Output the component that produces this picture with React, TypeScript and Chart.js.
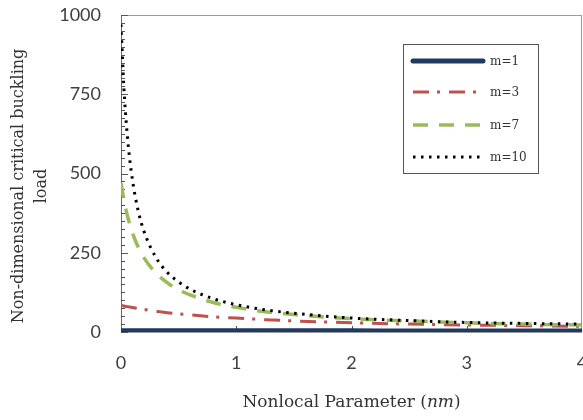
import React, { useEffect, useRef } from "react";
import { Chart, registerables } from "chart.js";

Chart.register(...registerables);

const xValues = [0, 0.025, 0.05, 0.075, 0.1, 0.15, 0.2, 0.3, 0.4, 0.5, 0.6, 0.8, 1, 1.25, 1.5, 2, 2.5, 3, 3.5, 4];
const m1Values = [4, 4, 4, 4, 4, 4, 4, 4, 4, 4, 4, 4, 4, 3.9, 3.8, 3.6, 3.4, 3.2, 3.1, 3];
const m3Values = [84, 82, 80, 79, 77, 74, 71, 66, 61, 57, 54, 48, 44, 39, 35, 29, 25, 22, 20, 18];
const m7Values = [470, 417, 375, 341, 312, 267, 234, 187, 156, 133, 117, 93, 78, 64, 55, 42, 35, 29, 25, 22];
const m10Values = [970, 771, 640, 547, 478, 381, 317, 237, 189, 158, 135, 105, 86, 70, 59, 44, 36, 30, 27, 25];

const seriesLabels = ["m=1", "m=3", "m=7", "m=10"];
const xTickLabels = [0, 1, 2, 3, 4];
const yTickLabels = [0, 250, 500, 750, 1000];
const yMinorStep = 25;

const yTitleLines = ["Non-dimensional critical buckling", "load"];
const xTitleParts = [
  { text: "Nonlocal Parameter (", italic: false },
  { text: "nm", italic: true },
  { text: ")", italic: false },
];

const styles = [
  { color: "#1f3a60", width: 5, dash: [] as number[] },
  { color: "#c0504d", width: 3, dash: [16, 8, 3, 9] },
  { color: "#9bbb59", width: 3.5, dash: [15, 11] },
  { color: "#000000", width: 3, dash: [2.5, 5.5] },
];

const SERIF = "'DejaVu Serif', serif";
const SANS = "Lato, 'Liberation Sans', sans-serif";

const decorPlugin = {
  id: "decor",
  beforeDatasetsDraw(chart: any) {
    const { ctx, chartArea, scales } = chart;
    const { left, right, top, bottom } = chartArea;
    const y = scales.y;
    const x = scales.x;
    ctx.save();
    ctx.strokeStyle = "#9a9a9a";
    ctx.lineWidth = 1;
    ctx.strokeRect(left + 0.5, top + 0.5, right - left - 1, bottom - top);
    ctx.strokeStyle = "#666";
    ctx.beginPath();
    ctx.moveTo(left + 0.5, top);
    ctx.lineTo(left + 0.5, bottom);
    ctx.stroke();
    ctx.strokeStyle = "#555";
    const yMax = yTickLabels[yTickLabels.length - 1];
    for (let v = 0; v <= yMax; v += yMinorStep) {
      const py = Math.round(y.getPixelForValue(v)) + 0.5;
      const len = yTickLabels.includes(v) ? 7 : 4;
      ctx.beginPath();
      ctx.moveTo(left, py);
      ctx.lineTo(left + len, py);
      ctx.stroke();
    }
    for (const v of xTickLabels) {
      if (v === xTickLabels[0] || v === xTickLabels[xTickLabels.length - 1]) continue;
      const px = Math.round(x.getPixelForValue(v)) + 0.5;
      ctx.beginPath();
      ctx.moveTo(px, bottom);
      ctx.lineTo(px, bottom - 6);
      ctx.stroke();
    }
    ctx.restore();
  },
  afterDraw(chart: any) {
    const { ctx, chartArea } = chart;
    ctx.save();
    ctx.fillStyle = "#333";
    ctx.font = `16px ${SERIF}`;
    ctx.textAlign = "center";
    ctx.textBaseline = "middle";
    const yCenter = 186;
    const xs = [19, 42];
    yTitleLines.forEach((line, i) => {
      ctx.save();
      ctx.translate(xs[i], yCenter);
      ctx.rotate(-Math.PI / 2);
      ctx.fillText(line, 0, 0);
      ctx.restore();
    });
    const fonts = xTitleParts.map((p) => (p.italic ? `italic 17px ${SERIF}` : `17px ${SERIF}`));
    let total = 0;
    const widths = xTitleParts.map((p, i) => {
      ctx.font = fonts[i];
      const w = ctx.measureText(p.text).width;
      total += w;
      return w;
    });
    let cx = (chartArea.left + chartArea.right) / 2 - total / 2;
    ctx.textAlign = "left";
    xTitleParts.forEach((p, i) => {
      ctx.font = fonts[i];
      ctx.fillText(p.text, cx, 403);
      cx += widths[i];
    });
    const bx = 403, by = 44, bw = 135, bh = 129;
    ctx.fillStyle = "#fff";
    ctx.fillRect(bx, by, bw, bh);
    ctx.strokeStyle = "#555";
    ctx.lineWidth = 1;
    ctx.setLineDash([]);
    ctx.strokeRect(bx + 0.5, by + 0.5, bw, bh);
    const rows = [61, 92, 125, 157];
    seriesLabels.forEach((lab, i) => {
      const s = styles[i];
      ctx.save();
      ctx.strokeStyle = s.color;
      ctx.lineWidth = s.width;
      ctx.setLineDash(s.dash);
      ctx.lineCap = i === 0 ? "round" : "butt";
      ctx.beginPath();
      ctx.moveTo(413, rows[i]);
      ctx.lineTo(483, rows[i]);
      ctx.stroke();
      ctx.restore();
      ctx.fillStyle = "#333";
      ctx.font = `12px ${SERIF}`;
      ctx.textAlign = "left";
      ctx.textBaseline = "middle";
      ctx.fillText(lab, 490, rows[i] + 1);
    });
    ctx.restore();
  },
};

export default function App() {
  const ref = useRef<HTMLCanvasElement>(null);
  useEffect(() => {
    if (!ref.current) return;
    const all = [m1Values, m3Values, m7Values, m10Values];
    const chart = new Chart(ref.current, {
      type: "line",
      data: {
        datasets: all.map((vals, i) => ({
          label: seriesLabels[i],
          data: xValues.map((xv, j) => ({ x: xv, y: vals[j] })),
          borderColor: styles[i].color,
          borderWidth: styles[i].width,
          borderDash: styles[i].dash,
          pointRadius: 0,
          fill: false,
          cubicInterpolationMode: "monotone" as const,
        })).reverse(),
      },
      options: {
        animation: false,
        responsive: false,
        maintainAspectRatio: false,
        layout: { padding: { left: 0, right: 1, top: 15, bottom: 0 } },
        plugins: { legend: { display: false }, tooltip: { enabled: false } },
        scales: {
          x: {
            type: "linear",
            min: xTickLabels[0],
            max: xTickLabels[xTickLabels.length - 1],
            grid: { display: false, drawTicks: false },
            border: { display: false },
            ticks: {
              stepSize: 1,
              padding: 20,
              color: "#404040",
              font: { family: SANS, size: 18 },
              callback: (v: any) => String(v),
            },
            afterFit(scale: any) {
              scale.height = 88;
              scale.paddingLeft = 0;
              scale.paddingRight = 0;
            },
          },
          y: {
            min: yTickLabels[0],
            max: yTickLabels[yTickLabels.length - 1],
            grid: { display: false, drawTicks: false },
            border: { display: false },
            ticks: {
              stepSize: 250,
              padding: 20,
              color: "#404040",
              font: { family: SANS, size: 18 },
              callback: (v: any) => String(v),
            },
            afterFit(scale: any) {
              scale.width = 121;
              scale.paddingTop = 0;
              scale.paddingBottom = 0;
            },
          },
        },
      },
      plugins: [decorPlugin],
    });
    return () => chart.destroy();
  }, []);
  return (
    <div style={{ position: "fixed", left: 0, top: 0, width: 583, height: 420, background: "#fff" }}>
      <canvas ref={ref} width={583} height={420} />
    </div>
  );
}
